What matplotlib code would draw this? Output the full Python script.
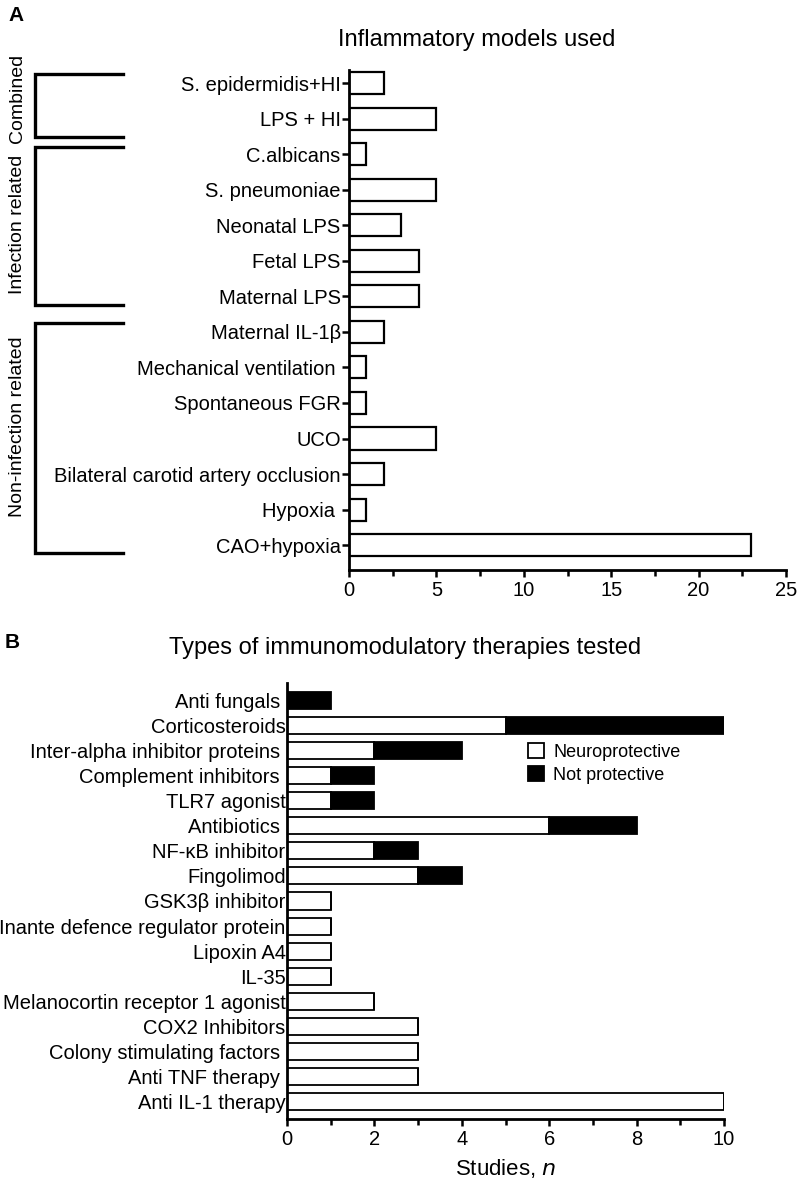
import matplotlib.pyplot as plt
from matplotlib.lines import Line2D
from matplotlib.patches import Patch
import numpy as np

plt.rcParams['font.family'] = ['Liberation Sans', 'DejaVu Sans']

# Panel A data (top to bottom)
modelos = ['S. epidermidis+HI', 'LPS + HI', 'C.albicans', 'S. pneumoniae',
           'Neonatal LPS', 'Fetal LPS', 'Maternal LPS', 'Maternal IL-1β',
           'Mechanical ventilation ', 'Spontaneous FGR', 'UCO',
           'Bilateral carotid artery occlusion', 'Hypoxia ', 'CAO+hypoxia']
n_modelos = [2, 5, 1, 5, 3, 4, 4, 2, 1, 1, 5, 2, 1, 23]

# grupos: (nombre, y_top px, y_bottom px, y centro texto px)
grupos = ['Combined', 'Infection related', 'Non-infection related']

# Panel B data (top to bottom)
terapias = ['Anti fungals ', 'Corticosteroids', 'Inter-alpha inhibitor proteins ',
            'Complement inhibitors ', 'TLR7 agonist', 'Antibiotics ',
            'NF-κB inhibitor', 'Fingolimod', 'GSK3β inhibitor',
            'Inante defence regulator protein', 'Lipoxin A4', 'IL-35',
            'Melanocortin receptor 1 agonist', 'COX2 Inhibitors',
            'Colony stimulating factors ', 'Anti TNF therapy ', 'Anti IL-1 therapy']
neuroprotective = [0, 5, 2, 1, 1, 6, 2, 3, 1, 1, 1, 1, 2, 3, 3, 3, 10]
not_protective = [1, 5, 2, 1, 1, 2, 1, 1, 0, 0, 0, 0, 0, 0, 0, 0, 0]

W, H = 797, 1183
fig = plt.figure(figsize=(W / 100, H / 100), dpi=100)


def fx(px):
    return px / W


def fy(py):
    return 1 - py / H


# ---------- Panel A ----------
axA = fig.add_axes([fx(349), fy(570), fx(786) - fx(349), fy(70) - fy(570)])
yA = np.arange(len(modelos))
axA.barh(yA, n_modelos, height=0.62, color='white', edgecolor='black', linewidth=1.6)
axA.set_ylim(13.70, -0.37)
axA.set_xlim(0, 25)
axA.set_yticks(yA)
axA.set_yticklabels(modelos, fontsize=14.5)
axA.set_xticks([0, 5, 10, 15, 20, 25])
axA.set_xticks(np.arange(2.5, 25, 5), minor=True)
axA.tick_params(axis='x', labelsize=14.5, width=1.8, length=5, pad=3)
axA.tick_params(axis='x', which='minor', width=1.8, length=4)
axA.tick_params(axis='y', width=1.8, length=5, pad=1)
for s in ['top', 'right']:
    axA.spines[s].set_visible(False)
for s in ['left', 'bottom']:
    axA.spines[s].set_linewidth(2)
fig.text(fx(477), fy(40), 'Inflammatory models used', fontsize=17, ha='center', va='center')

# Llaves de grupos
llaves = [(74, 137, 98), (147, 305, 224), (323, 553, 427)]
for nombre, (top, bot, yc) in zip(grupos, llaves):
    xs = [fx(123), fx(35), fx(35), fx(123)]
    ys = [fy(top), fy(top), fy(bot), fy(bot)]
    fig.add_artist(Line2D(xs, ys, color='black', linewidth=2.4, solid_joinstyle='miter'))
    fig.text(fx(18), fy(yc), nombre, rotation=90, fontsize=14, ha='center', va='center')

fig.text(fx(8), fy(6), 'A', fontsize=15, fontweight='bold', ha='left', va='top')

# ---------- Panel B ----------
axB = fig.add_axes([fx(287), fy(1119), fx(724) - fx(287), fy(683) - fy(1119)])
yB = np.arange(len(terapias))
axB.barh(yB, neuroprotective, height=0.68, color='white', edgecolor='black', linewidth=1.3)
axB.barh(yB, not_protective, left=neuroprotective, height=0.68, color='black',
         edgecolor='black', linewidth=1.3)
axB.set_ylim(16.68, -0.68)
axB.set_xlim(0, 10)
axB.set_yticks(yB)
axB.set_yticklabels(terapias, fontsize=14.5)
axB.set_xticks([0, 2, 4, 6, 8, 10])
axB.set_xticks([1, 3, 5, 7, 9], minor=True)
axB.tick_params(axis='x', labelsize=14.5, width=1.8, length=5, pad=3)
axB.tick_params(axis='x', which='minor', width=1.8, length=4)
axB.tick_params(axis='y', length=0, pad=1)
for s in ['top', 'right']:
    axB.spines[s].set_visible(False)
for s in ['left', 'bottom']:
    axB.spines[s].set_linewidth(2)
axB.set_xlabel('Studies, $\\it{n}$', fontsize=16, labelpad=6)
fig.text(fx(405), fy(648), 'Types of immunomodulatory therapies tested', fontsize=17,
         ha='center', va='center')

handles = [Patch(facecolor='white', edgecolor='black', linewidth=1.3, label='Neuroprotective'),
           Patch(facecolor='black', edgecolor='black', linewidth=1.3, label='Not protective')]
axB.legend(handles=handles, loc='upper left', bbox_to_anchor=(fx(528), fy(743)),
           bbox_transform=fig.transFigure, frameon=False, fontsize=13,
           handlelength=0.9, handleheight=0.9, handletextpad=0.5, labelspacing=0.3,
           borderpad=0, borderaxespad=0)

fig.text(fx(5), fy(633), 'B', fontsize=15, fontweight='bold', ha='left', va='top')

fig.savefig('out.png', dpi=100)
